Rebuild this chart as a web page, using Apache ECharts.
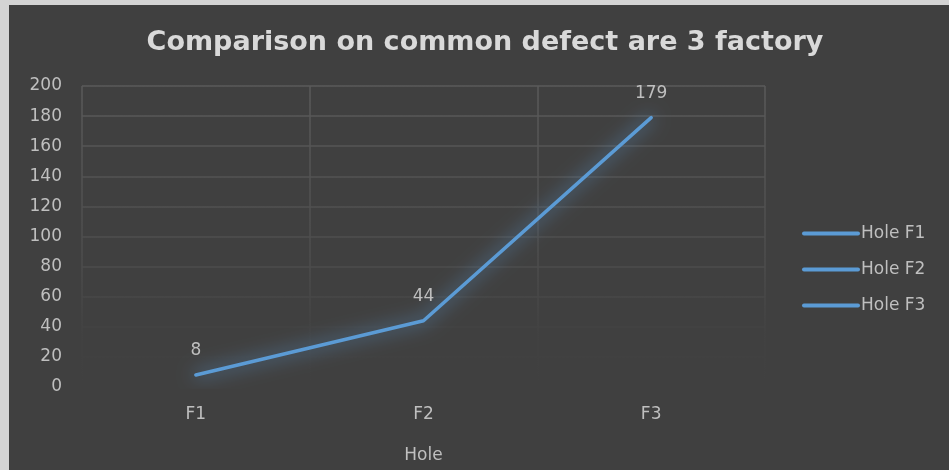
<!DOCTYPE html>
<html>
<head>
<meta charset="utf-8">
<script src="https://cdn.jsdelivr.net/npm/echarts@6/dist/echarts.min.js"></script>
<style>
  html, body { margin: 0; padding: 0; background: #d4d4d4; }
  #chart { position: absolute; left: 9px; top: 5px; width: 940px; height: 465px; background: #404040; }
</style>
</head>
<body>
<div id="chart"></div>
<script>
// Defect counts per factory
const categories = ['F1', 'F2', 'F3'];
const seriesNames = ['Hole F1', 'Hole F2', 'Hole F3'];
const holeValues = [8, 44, 179];
const yTicks = { min: 0, max: 200, interval: 20 };

const FONT = 'DejaVu Sans';
const LINE_COLOR = '#5b9bd5';
const TEXT_COLOR = '#bfbfbf';

const GRID_TOP = 81, GRID_BOTTOM = 83;
const chartEl = document.getElementById('chart');
const chart = echarts.init(chartEl);
const H = chartEl.clientHeight;

// grid lines fade out toward the bottom of the plot
const gridColor = {
  type: 'linear', global: true,
  x: 0, y: GRID_TOP, x2: 0, y2: H - GRID_BOTTOM,
  colorStops: [
    { offset: 0, color: '#5a5a5a' },
    { offset: 0.6, color: '#4c4c4c' },
    { offset: 0.82, color: '#424242' },
    { offset: 1, color: '#404040' }
  ]
};

const series = seriesNames.map((name, i) => ({
  name: name,
  type: 'line',
  data: i === 0 ? holeValues : [],
  symbol: 'circle',
  symbolSize: 0.01,
  z: 3 - i,
  lineStyle: {
    color: LINE_COLOR,
    width: 3.5,
    cap: 'round',
    shadowBlur: 18,
    shadowColor: 'rgba(91,155,213,1)'
  },
  itemStyle: { color: LINE_COLOR },
  label: {
    show: true,
    position: 'top',
    distance: 16,
    color: TEXT_COLOR,
    fontFamily: FONT,
    fontSize: 17
  }
}));

chart.setOption({
  backgroundColor: '#404040',
  animation: false,
  title: {
    text: 'Comparison on common defect are 3 factory',
    left: 471, top: 19, textAlign: 'center',
    textStyle: { color: '#d9d9d9', fontFamily: FONT, fontWeight: 'bold', fontSize: 27 }
  },
  legend: {
    orient: 'vertical',
    left: 788, top: 215,
    itemWidth: 54, itemHeight: 14, itemGap: 19,
    data: seriesNames,
    itemStyle: { opacity: 0 },
    lineStyle: { width: 4, cap: 'round', shadowBlur: 0 },
    textStyle: { color: TEXT_COLOR, fontFamily: FONT, fontSize: 17, padding: [0, 0, 0, -2] }
  },
  grid: { left: 73, right: 184, top: GRID_TOP, bottom: GRID_BOTTOM },
  xAxis: {
    type: 'category',
    data: categories,
    boundaryGap: true,
    name: 'Hole',
    nameLocation: 'middle',
    nameGap: 60,
    nameTextStyle: { color: TEXT_COLOR, fontFamily: FONT, fontSize: 17 },
    axisLine: { show: false },
    axisTick: { show: false },
    axisLabel: { color: TEXT_COLOR, fontFamily: FONT, fontSize: 17, margin: 19 },
    splitLine: { show: true, lineStyle: { color: gridColor, width: 1.5 } }
  },
  yAxis: {
    type: 'value',
    min: yTicks.min, max: yTicks.max, interval: yTicks.interval,
    axisLine: { show: false },
    axisTick: { show: false },
    axisLabel: { color: TEXT_COLOR, fontFamily: FONT, fontSize: 17, margin: 20 },
    splitLine: { show: true, lineStyle: { color: gridColor, width: 1.5 } }
  },
  series: series
});
</script>
</body>
</html>
